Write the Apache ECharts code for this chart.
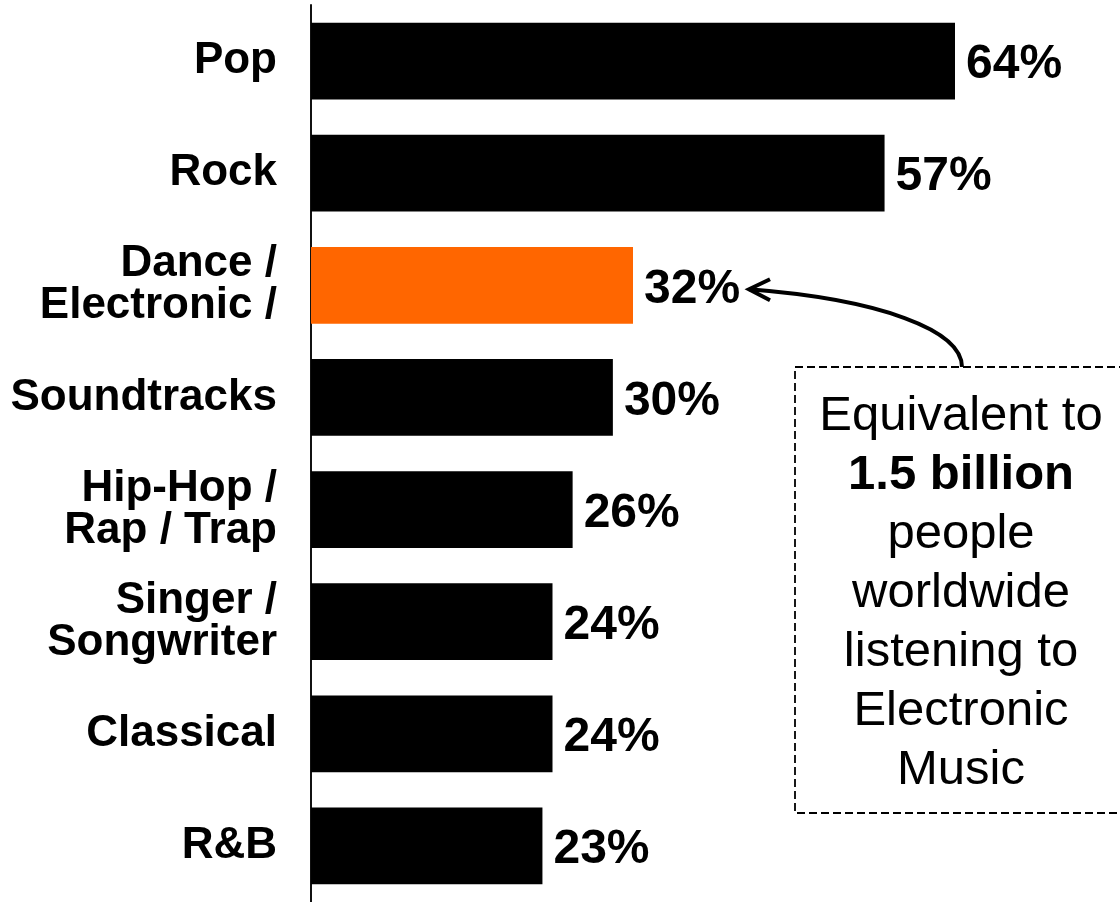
<!DOCTYPE html>
<html>
<head>
<meta charset="utf-8">
<style>
  html, body { margin: 0; padding: 0; background: #ffffff; }
  #chart { width: 1120px; height: 902px; }
</style>
<script src="https://cdn.jsdelivr.net/npm/echarts@6/dist/echarts.min.js"></script>
</head>
<body>
<div id="chart"></div>
<script>
// Music genres listened to, share of respondents
const genres = ['Pop', 'Rock', 'Dance /\nElectronic /', 'Soundtracks', 'Hip-Hop /\nRap / Trap', 'Singer /\nSongwriter', 'Classical', 'R&B'];
const shares = [64, 57, 32, 30, 26, 24, 24, 23];
const highlightGenre = 'Dance /\nElectronic /';
const noteLines = ['Equivalent to', '1.5 billion', 'people', 'worldwide', 'listening to', 'Electronic', 'Music'];
const noteBoldLine = '1.5 billion';

const FONT = '"Liberation Sans", Arial, Helvetica, sans-serif';
const chart = echarts.init(document.getElementById('chart'), null, { renderer: 'canvas' });

const barData = shares.map((v, i) => ({
  value: v,
  itemStyle: { color: genres[i] === highlightGenre ? '#ff6600' : '#000000' }
}));

chart.setOption({
  animation: false,
  backgroundColor: '#ffffff',
  grid: { left: 311, top: 5, width: 805, height: 898, containLabel: false },
  xAxis: { type: 'value', min: 0, max: 80, show: false },
  yAxis: {
    type: 'category',
    data: genres,
    inverse: true,
    axisLine: { show: true, lineStyle: { color: '#111111', width: 2 } },
    axisTick: { show: false },
    axisLabel: {
      margin: 34,
      color: '#000000',
      fontFamily: FONT,
      fontWeight: 'bold',
      fontSize: 44,
      lineHeight: 42,
      align: 'right'
    }
  },
  series: [{
    type: 'bar',
    data: barData,
    barCategoryGap: '31.5%',
    label: {
      show: true,
      position: 'right',
      distance: 11,
      offset: [0, 4],
      formatter: '{c}%',
      color: '#000000',
      fontFamily: FONT,
      fontWeight: 'bold',
      fontSize: 48
    }
  }]
});

// Annotation: dashed note box with a curved arrow pointing at the highlighted label
const hiIndex = genres.indexOf(highlightGenre);
const hiPt = chart.convertToPixel({ gridIndex: 0 }, [shares[hiIndex], hiIndex]);
const tipX = hiPt[0] + 116;
const tipY = hiPt[1] + 4;

const boxX = 795, boxY = 367, boxW = 340, boxH = 446;
const startX = 962, startY = boxY;

const richText = noteLines.map(l => l === noteBoldLine ? '{b|' + l + '}' : '{r|' + l + '}').join('\n');

chart.setOption({
  graphic: [
    {
      type: 'rect',
      shape: { x: boxX, y: boxY, width: boxW, height: boxH },
      style: { fill: 'none', stroke: '#000000', lineWidth: 1.8, lineDash: [8, 4] }
    },
    {
      type: 'text',
      x: 961,
      y: boxY + 20,
      style: {
        text: richText,
        align: 'center',
        verticalAlign: 'top',
        rich: {
          r: { fontFamily: FONT, fontSize: 49, lineHeight: 59, color: '#000000', align: 'center' },
          b: { fontFamily: FONT, fontSize: 49, fontWeight: 'bold', lineHeight: 59, color: '#000000', align: 'center' }
        }
      }
    },
    {
      type: 'bezierCurve',
      shape: {
        x1: startX, y1: startY,
        cpx1: startX, cpy1: startY - 37,
        cpx2: startX - 82, cpy2: tipY + 10,
        x2: tipX, y2: tipY
      },
      style: { stroke: '#000000', lineWidth: 4, fill: 'none' }
    },
    {
      type: 'polyline',
      shape: { points: [[tipX + 21, tipY - 10], [tipX, tipY], [tipX + 21, tipY + 11]] },
      style: { stroke: '#000000', lineWidth: 4, fill: 'none', lineJoin: 'miter' }
    }
  ]
});
</script>
</body>
</html>
